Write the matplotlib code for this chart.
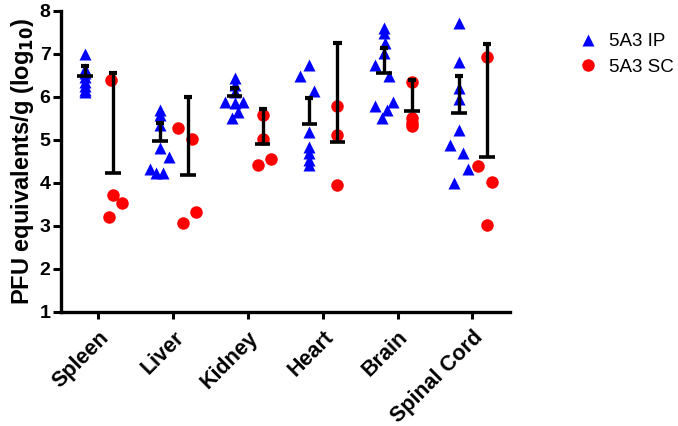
import numpy as np
import matplotlib
matplotlib.use("Agg")
import matplotlib.pyplot as plt

plt.rcParams["font.family"] = ["Liberation Sans", "DejaVu Sans"]

# data (log10 PFU equivalents / g)
organs = ["Spleen", "Liver", "Kidney", "Heart", "Brain", "Spinal Cord"]

ip_values = [
    [7.0, 6.65, 6.55, 6.45, 6.35, 6.25, 6.15, 6.1],
    [5.69, 5.57, 5.34, 4.80, 4.60, 4.33, 4.23, 4.23],
    [6.43, 6.27, 6.12, 5.88, 5.88, 5.85, 5.65, 5.50],
    [6.73, 6.47, 6.14, 5.19, 4.84, 4.68, 4.54, 4.41],
    [7.59, 7.47, 7.24, 7.01, 6.74, 6.48, 5.88, 5.78, 5.69, 5.50],
    [7.71, 6.81, 6.20, 5.94, 5.23, 4.88, 4.70, 4.31, 3.99],
]
ip_mean = [6.47, 4.98, 6.02, 5.37, 6.56, 5.61]
ip_upper = [6.71, 5.40, 6.20, 5.96, 7.13, 6.47]

sc_values = [
    [6.39, 3.71, 3.52, 3.21],
    [5.28, 5.01, 3.33, 3.06],
    [5.57, 5.02, 4.41, 4.55],
    [5.78, 5.11, 3.94],
    [6.35, 5.50, 5.40, 5.33],
    [6.93, 4.39, 4.01, 3.01],
]
sc_mean = [4.22, 4.18, 4.89, 4.94, 5.67, 4.59]
sc_upper = [6.56, 5.99, 5.71, 7.24, 6.39, 7.23]

# horizontal scatter of the points inside each column (layout only)
ip_jitter = [
    [0, 0, 0, 0, 0, 0, 0, 0],
    [0, 0, 0, 0, 0.12, -0.13, -0.05, 0.04],
    [0, 0, 0, -0.13, 0.11, 0, 0.04, -0.04],
    [0, -0.13, 0.06, 0, 0, 0, 0, 0],
    [0, 0, 0.01, 0, -0.12, 0.07, 0.12, -0.12, 0.04, -0.03],
    [0, 0, 0, 0, 0, -0.12, 0.06, 0.12, -0.07],
]
sc_jitter = [
    [-0.03, 0, 0.12, -0.06],
    [-0.13, 0.06, 0.11, -0.07],
    [0, 0, -0.06, 0.11],
    [0, 0, 0],
    [0, 0, 0, 0],
    [0, -0.12, 0.06, 0],
]

IP_OFF, SC_OFF = -0.18, 0.195

fig = plt.figure(figsize=(6.78, 4.26), dpi=100)
ax = fig.add_axes([0.090, 0.268, 0.662, 0.707])

for i in range(len(organs)):
    xs = [i + IP_OFF + j for j in ip_jitter[i]]
    ax.plot(xs, ip_values[i], ls="none", marker="^", ms=9, color="#0000ff",
            mec="none", zorder=2, label="5A3 IP" if i == 0 else None)
    xs = [i + SC_OFF + j for j in sc_jitter[i]]
    ax.plot(xs, sc_values[i], ls="none", marker="o", ms=9, color="#ff0000",
            mec="none", zorder=2, label="5A3 SC" if i == 0 else None)

# mean (wide bar) with one-sided upper error bar
for off, means, uppers in [(IP_OFF, ip_mean, ip_upper), (SC_OFF, sc_mean, sc_upper)]:
    for i, (m, u) in enumerate(zip(means, uppers)):
        x = i + off
        ax.plot([x, x], [m, u], color="black", lw=2.4, solid_capstyle="butt", zorder=3)
        ax.plot([x - 0.105, x + 0.105], [m, m], color="black", lw=2.6,
                solid_capstyle="butt", zorder=3)
        ax.plot([x - 0.055, x + 0.055], [u, u], color="black", lw=3.0,
                solid_capstyle="butt", zorder=3)

ax.set_xlim(-0.5, 5.5)
ax.set_ylim(1, 8)
ax.set_xticks(range(len(organs)))
ax.set_xticklabels(organs, rotation=45, ha="right", rotation_mode="anchor",
                   fontsize=15.5, fontweight="bold")
ax.set_yticks(range(1, 9))
ax.tick_params(axis="y", labelsize=14, width=2.2, length=5.5, pad=2)
ax.tick_params(axis="x", width=2.2, length=5, pad=6)
for lab in ax.get_yticklabels():
    lab.set_fontweight("bold")
for s in ["top", "right"]:
    ax.spines[s].set_visible(False)
for s in ["left", "bottom"]:
    ax.spines[s].set_linewidth(2.4)

ax.set_ylabel("PFU equivalents/g (log$_{\\mathbf{10}}$)", fontsize=17, fontweight="bold",
              labelpad=3)

fig.legend(loc="upper left", bbox_to_anchor=(0.843, 0.94), frameon=False,
           fontsize=13.5, handlelength=1.0, handletextpad=0.6, labelspacing=0.45,
           borderaxespad=0)

fig.savefig("out.png", dpi=100)
